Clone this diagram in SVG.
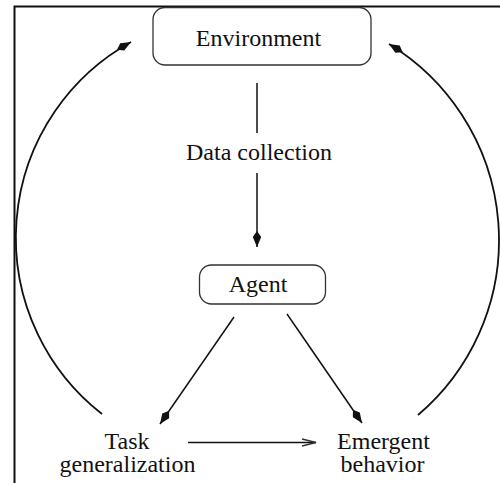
<svg xmlns="http://www.w3.org/2000/svg" width="500" height="483" viewBox="0 0 500 483">
  <style>
    .box { fill: #fff; stroke: #333; stroke-width: 1.3; }
    .lbl { font-family: 'Liberation Serif', 'Times New Roman', Times, 'DejaVu Serif', serif; font-size: 24px; fill: #111; text-anchor: middle; }
    .edge { fill: none; stroke: #111; stroke-width: 1.5; }
    .arc { fill: none; stroke: #111; stroke-width: 1.8; }
  </style>
  <defs>
    <marker id="dart" markerUnits="userSpaceOnUse" markerWidth="22" markerHeight="14" viewBox="-18 -7 22 14" refX="0" refY="0" orient="auto">
      <path d="M0,0 L-10,-4.2 L-16,0 L-10,4.2 Z" fill="#111"/>
    </marker>
    <marker id="open" markerUnits="userSpaceOnUse" markerWidth="20" markerHeight="12" viewBox="-16 -6 20 12" refX="0" refY="0" orient="auto">
      <path d="M-14,-3.5 L0,0 L-14,3.5" fill="none" stroke="#333" stroke-width="1.3"/>
    </marker>
  </defs>
  <rect width="500" height="483" fill="#fff"/>
  <g id="frame">
    <path d="M14.5,483 L14.5,6.5 L500,6.5" fill="none" stroke="#111" stroke-width="2"/>
  </g>
  <g id="connectors">
    <line class="edge" x1="257" y1="83" x2="257" y2="133"/>
    <line class="edge" x1="257" y1="173" x2="257" y2="247" marker-end="url(#dart)"/>
    <line class="edge" x1="234" y1="317" x2="160" y2="424" marker-end="url(#dart)"/>
    <line class="edge" x1="287" y1="314" x2="362" y2="423" marker-end="url(#dart)"/>
    <line class="edge" x1="188" y1="442.5" x2="316" y2="442.5" stroke="#444" marker-end="url(#open)"/>
    <path class="arc" d="M102,414 A223.7,223.7 0 0 1 131,42" marker-end="url(#dart)"/>
    <path class="arc" d="M418,415 A229.6,229.6 0 0 0 389,44" marker-end="url(#dart)"/>
  </g>
  <g id="environment">
    <rect class="box" x="153" y="7.5" width="218" height="57.5" rx="12" ry="12"/>
    <text class="lbl" x="258.5" y="46" font-family="Liberation Serif, serif">Environment</text>
  </g>
  <g id="data-collection">
    <text class="lbl" x="259" y="160" font-family="Liberation Serif, serif">Data collection</text>
  </g>
  <g id="agent">
    <rect class="box" x="199.5" y="265" width="126" height="39" rx="12" ry="12"/>
    <text class="lbl" x="258" y="292" font-family="Liberation Serif, serif">Agent</text>
  </g>
  <g id="task-generalization">
    <text class="lbl" x="127" y="449" font-family="Liberation Serif, serif">Task</text>
    <text class="lbl" x="127.5" y="472" font-family="Liberation Serif, serif">generalization</text>
  </g>
  <g id="emergent-behavior">
    <text class="lbl" x="383.5" y="449" font-family="Liberation Serif, serif">Emergent</text>
    <text class="lbl" x="382.5" y="472" font-family="Liberation Serif, serif">behavior</text>
  </g>
</svg>
